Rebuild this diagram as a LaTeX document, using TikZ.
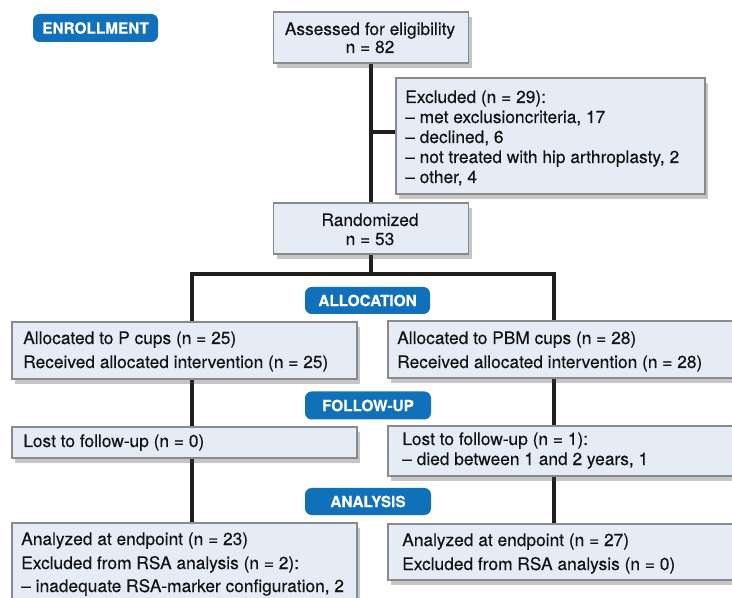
\documentclass[tikz,border=0pt]{standalone}
\usepackage{fontspec}
\setmainfont{TeX Gyre Heros}[FakeBold=0.35]
\usetikzlibrary{shadows,backgrounds}
\definecolor{pillblue}{HTML}{1070BA}
\definecolor{boxfill}{HTML}{E6ECF6}
\definecolor{boxline}{HTML}{8A8A8A}
\tikzset{
  sz/.style 2 args={minimum width=#1*0.75pt, minimum height=#2*0.75pt},
  flowbox/.style={rectangle, draw=boxline, line width=0.8pt, fill=boxfill, inner sep=0pt,
    drop shadow={shadow xshift=2.5pt, shadow yshift=-3.5pt, opacity=0.3, fill=black!75}},
  pill/.style={rectangle, fill=pillblue, rounded corners=5pt, text=white, inner sep=0pt,
    font=\bfseries\fontsize{11.5}{12}\selectfont},
  txt/.style={anchor=base west, inner sep=0pt, text=black!92, font=\fontsize{13.0}{14}\selectfont},
  ctxt/.style={anchor=base, inner sep=0pt, text=black!92, font=\fontsize{13.0}{14}\selectfont},
  conn/.style={line width=2.3pt, draw=black!88},
}
\begin{document}
\begin{tikzpicture}[x=0.75pt, y=-0.75pt]
\useasboundingbox (0,0) rectangle (732,598);
% phase labels
\node[pill, sz={125}{28}] (penroll) at (95.5,28) {ENROLLMENT};
\node[pill, sz={125}{27}] (palloc) at (367.5,300.5) {ALLOCATION};
\node[pill, sz={126}{28}] (pfollow) at (368,405.5) {FOLLOW-UP};
\node[pill, sz={126}{27}] (panal) at (368,501.5) {ANALYSIS};
% boxes
\node[flowbox, sz={195}{51}] (assessed) at (371,37.5) {};
\node[ctxt] (a1) at (370,35) {Assessed for eligibility};
\node[ctxt] (a2) at (370,53) {n = 82};

\node[flowbox, sz={309}{116}] (excluded) at (550.5,136) {};
\node[txt] (e1) at (405,103) {Excluded (n = 29):};
\node[txt] (e2) at (405,123) {– met exclusioncriteria, 17};
\node[txt] (e3) at (405,143) {– declined, 6};
\node[txt] (e4) at (405,163) {– not treated with hip arthroplasty, 2};
\node[txt] (e5) at (405,183) {– other, 4};

\node[flowbox, sz={195}{51}] (randomized) at (371,228.5) {};
\node[ctxt] (r1) at (370,226) {Randomized};
\node[ctxt] (r2) at (370,245) {n = 53};

\node[flowbox, sz={345}{57}] (L1) at (184.5,350.5) {};
\node[txt] (l1a) at (23,344) {Allocated to P cups (n = 25)};
\node[txt] (l1b) at (23,368) {Received allocated intervention (n = 25)};

\node[flowbox, sz={360}{57}] (R1) at (568,349.5) {};
\node[txt] (r1a) at (397,344) {Allocated to PBM cups (n = 28)};
\node[txt] (r1b) at (397,368) {Received allocated intervention (n = 28)};

\node[flowbox, sz={345}{31}] (L2) at (184.5,442.5) {};
\node[txt] (l2a) at (23,447) {Lost to follow-up (n = 0)};

\node[flowbox, sz={360}{50}] (R2) at (568,451) {};
\node[txt] (r2a) at (402,445) {Lost to follow-up (n = 1):};
\node[txt] (r2b) at (402,465) {– died between 1 and 2 years, 1};

\node[flowbox, sz={345}{90}] (L3) at (184.5,568) {};
\node[txt] (l3a) at (21,545) {Analyzed at endpoint (n = 23)};
\node[txt] (l3b) at (21,569) {Excluded from RSA analysis (n = 2):};
\node[txt] (l3c) at (21,592) {– inadequate RSA-marker configuration, 2};

\node[flowbox, sz={360}{56}] (R3) at (568,552) {};
\node[txt] (r3a) at (402,546) {Analyzed at endpoint (n = 27)};
\node[txt] (r3b) at (402,570) {Excluded from RSA analysis (n = 0)};

\coordinate (jx) at (371,132);
\coordinate (split) at (371,274);
\coordinate (sl) at (192,274);
\coordinate (sr) at (554,274);
\begin{pgfonlayer}{background}
\draw[conn] (assessed.south) -- (randomized.north);
\draw[conn] (jx) -- (jx -| excluded.west);
\draw[conn] (randomized.south) -- (split);
\draw[conn, line cap=rect] (sl) -- (sr);
\draw[conn] (sl) -- (sl |- L3.north);
\draw[conn] (sr) -- (sr |- R3.north);
\end{pgfonlayer}
\end{tikzpicture}
\end{document}
